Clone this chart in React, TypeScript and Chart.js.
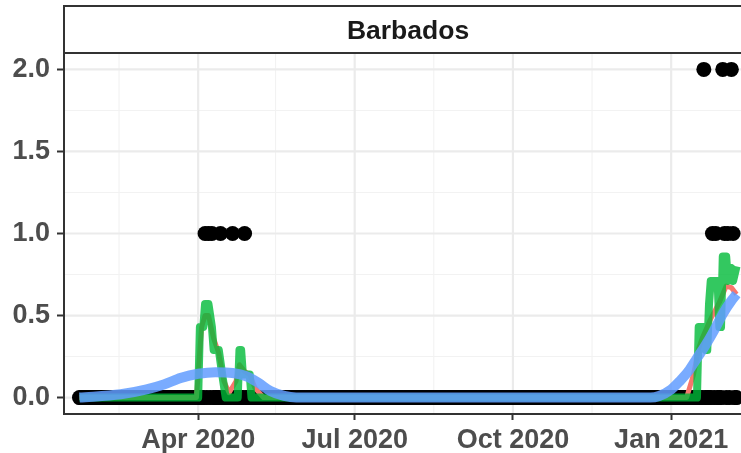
import React, { useEffect, useRef } from 'react';
import { Chart, registerables } from 'chart.js';

Chart.register(...registerables);

// ---- Data ----
const seriesStart = '2020-01-23';
const seriesEnd = '2021-02-08';

// days with non-zero daily values (all other days in the range are 0)
const eventDates = [
  '2020-04-05', '2020-04-07', '2020-04-09', '2020-04-14', '2020-04-21', '2020-04-28',
  '2021-01-20', '2021-01-25', '2021-01-27', '2021-01-31', '2021-02-01', '2021-02-03',
  '2021-02-05', '2021-02-06',
];
const eventCounts = [1, 1, 1, 1, 1, 1, 2, 1, 1, 2, 1, 1, 2, 1];

// green average line
const greenDates = [
  '2020-01-23', '2020-04-01', '2020-04-02', '2020-04-04', '2020-04-05', '2020-04-07',
  '2020-04-09', '2020-04-10', '2020-04-13', '2020-04-15', '2020-04-17', '2020-04-24',
  '2020-04-25', '2020-04-26', '2020-04-27', '2020-05-01', '2020-05-02', '2021-01-16',
  '2021-01-17', '2021-01-20', '2021-01-21', '2021-01-22', '2021-01-23', '2021-01-24',
  '2021-01-28', '2021-01-29', '2021-01-30', '2021-01-31', '2021-02-02', '2021-02-03',
  '2021-02-05', '2021-02-06', '2021-02-08',
];
const greenValues = [
  0, 0, 0.43, 0.43, 0.57, 0.57,
  0.43, 0.29, 0.29, 0.14, 0, 0,
  0.29, 0.29, 0.14, 0.14, 0, 0,
  0.43, 0.43, 0.29, 0.29, 0.57, 0.71,
  0.71, 0.43, 0.43, 0.86, 0.86, 0.71,
  0.79, 0.71, 0.8,
];

// red average line
const redDates = [
  '2020-01-23', '2020-03-31', '2020-04-01', '2020-04-02', '2020-04-03', '2020-04-05',
  '2020-04-07', '2020-04-10', '2020-04-13', '2020-04-16', '2020-04-19', '2020-04-23',
  '2020-04-25', '2020-04-28', '2020-05-01', '2020-05-04', '2020-05-09', '2021-01-10',
  '2021-01-14', '2021-01-17', '2021-01-19', '2021-01-24', '2021-01-29', '2021-02-02',
  '2021-02-05', '2021-02-08',
];
const redValues = [
  0, 0, 0.14, 0.29, 0.43, 0.5,
  0.5, 0.36, 0.27, 0.1, 0.03, 0.1,
  0.2, 0.16, 0.14, 0.06, 0, 0,
  0.14, 0.3, 0.36, 0.48, 0.58, 0.68,
  0.67, 0.63,
];

// blue smooth trend
const blueDates = [
  '2020-01-23', '2020-02-16', '2020-03-02', '2020-03-12', '2020-03-22', '2020-04-01',
  '2020-04-11', '2020-04-21', '2020-04-29', '2020-05-06', '2020-05-13', '2020-05-21',
  '2020-05-28', '2020-12-20', '2020-12-25', '2021-01-01', '2021-01-06', '2021-01-11',
  '2021-01-16', '2021-01-21', '2021-01-26', '2021-01-31', '2021-02-05', '2021-02-08',
];
const blueValues = [
  0, 0.02, 0.05, 0.08, 0.12, 0.145,
  0.155, 0.15, 0.13, 0.09, 0.04, 0.01,
  0, 0, 0.01, 0.05, 0.1, 0.16,
  0.24, 0.32, 0.41, 0.51, 0.59, 0.63,
];

// axes
const xTickDates = ['2020-04-01', '2020-07-01', '2020-10-01', '2021-01-01'];
const xTickLabels = ['Apr 2020', 'Jul 2020', 'Oct 2020', 'Jan 2021'];
const xMinorDates = ['2020-02-15', '2020-05-16', '2020-08-16', '2020-11-16', '2021-02-15'];
const xAxisStart = '2020-01-14';
const xAxisEnd = '2021-02-17';
const yTicks = [0, 0.5, 1, 1.5, 2];
const yTickLabels = ['0.0', '0.5', '1.0', '1.5', '2.0'];
const yMinor = [0.25, 0.75, 1.25, 1.75];
const yAxisMin = -0.1;
const yAxisMax = 2.1;
const panelTitle = 'Barbados';

// ---- helpers ----
const dayOf = (s: string) => {
  const [y, m, d] = s.split('-').map(Number);
  return Date.UTC(y, m - 1, d) / 86400000;
};
const toXY = (dates: string[], vals: number[]) => dates.map((d, i) => ({ x: dayOf(d), y: vals[i] }));

const buildDaily = () => {
  const out: { x: number; y: number }[] = [];
  const map = new Map<number, number>();
  eventDates.forEach((d, i) => map.set(dayOf(d), eventCounts[i]));
  for (let t = dayOf(seriesStart); t <= dayOf(seriesEnd); t++) {
    out.push({ x: t, y: map.get(t) ?? 0 });
  }
  return out;
};

const FONT = '"Liberation Sans", Arial, Helvetica, sans-serif';
const CANVAS_W = 800;
const CANVAS_H = 453;
const AREA = { left: 64, right: 752, top: 53, bottom: 414 };

const panelPlugin = {
  id: 'panelDecor',
  beforeDraw(chart: any) {
    const { ctx, chartArea: a, scales } = chart;
    const x = scales.x;
    const y = scales.y;
    ctx.save();
    ctx.fillStyle = '#ffffff';
    ctx.fillRect(0, 0, chart.width, chart.height);
    ctx.beginPath();
    ctx.rect(a.left, a.top, a.right - a.left, a.bottom - a.top);
    ctx.clip();
    // minor grid
    ctx.strokeStyle = '#f2f2f2';
    ctx.lineWidth = 1.1;
    xMinorDates.forEach((d) => {
      const px = x.getPixelForValue(dayOf(d));
      ctx.beginPath();
      ctx.moveTo(px, a.top);
      ctx.lineTo(px, a.bottom);
      ctx.stroke();
    });
    yMinor.forEach((v) => {
      const py = y.getPixelForValue(v);
      ctx.beginPath();
      ctx.moveTo(a.left, py);
      ctx.lineTo(a.right, py);
      ctx.stroke();
    });
    // major grid
    ctx.strokeStyle = '#ebebeb';
    ctx.lineWidth = 2.2;
    xTickDates.forEach((d) => {
      const px = x.getPixelForValue(dayOf(d));
      ctx.beginPath();
      ctx.moveTo(px, a.top);
      ctx.lineTo(px, a.bottom);
      ctx.stroke();
    });
    yTicks.forEach((v) => {
      const py = y.getPixelForValue(v);
      ctx.beginPath();
      ctx.moveTo(a.left, py);
      ctx.lineTo(a.right, py);
      ctx.stroke();
    });
    ctx.restore();
  },
  afterDraw(chart: any) {
    const { ctx, chartArea: a } = chart;
    ctx.save();
    const top = 6;
    ctx.fillStyle = '#ffffff';
    ctx.fillRect(a.left, top, a.right - a.left, a.top - top);
    ctx.strokeStyle = '#333333';
    ctx.lineWidth = 2;
    ctx.strokeRect(a.left, top, a.right - a.left, a.top - top);
    ctx.fillStyle = '#1a1a1a';
    ctx.font = `bold 26.5px ${FONT}`;
    ctx.textAlign = 'center';
    ctx.textBaseline = 'alphabetic';
    ctx.fillText(panelTitle, (a.left + a.right) / 2, 38.5);
    ctx.restore();
  },
};

export default function App() {
  const ref = useRef<HTMLCanvasElement>(null);

  useEffect(() => {
    const canvas = ref.current;
    if (!canvas) return;
    const tickFont = { family: FONT, size: 27, weight: 'bold' as const };
    const chart = new Chart(canvas, {
      type: 'line',
      data: {
        datasets: [
          {
            label: 'trend',
            data: toXY(blueDates, blueValues),
            borderColor: 'rgba(97,156,255,0.85)',
            borderWidth: 10,
            pointRadius: 0,
            cubicInterpolationMode: 'monotone',
            borderCapStyle: 'butt',
            borderJoinStyle: 'round',
            fill: false,
            order: 0,
          },
          {
            label: 'green',
            data: toXY(greenDates, greenValues),
            borderColor: 'rgba(0,186,56,0.8)',
            borderWidth: 8,
            pointRadius: 0,
            tension: 0,
            borderJoinStyle: 'round',
            fill: false,
            order: 1,
          },
          {
            label: 'red',
            data: toXY(redDates, redValues),
            borderColor: '#F8766D',
            borderWidth: 5,
            pointRadius: 0,
            tension: 0,
            borderJoinStyle: 'round',
            fill: false,
            order: 2,
          },
          {
            label: 'daily',
            data: buildDaily(),
            showLine: false,
            pointRadius: 7.5,
            pointBackgroundColor: '#000000',
            pointBorderWidth: 0,
            pointBorderColor: '#000000',
            order: 3,
          },
        ],
      },
      options: {
        animation: false,
        responsive: false,
        events: [],
        layout: { padding: { top: AREA.top, left: 0, right: CANVAS_W - AREA.right, bottom: 0 } },
        plugins: {
          legend: { display: false },
          tooltip: { enabled: false },
          title: { display: false },
        },
        scales: {
          x: {
            type: 'linear',
            min: dayOf(xAxisStart),
            max: dayOf(xAxisEnd),
            afterFit: (s: any) => {
              s.height = CANVAS_H - AREA.bottom;
            },
            afterBuildTicks: (s: any) => {
              s.ticks = xTickDates.map((d) => ({ value: dayOf(d) }));
            },
            ticks: {
              autoSkip: false,
              maxRotation: 0,
              minRotation: 0,
              padding: 4,
              color: '#4d4d4d',
              font: tickFont,
              callback: (v: any) => {
                const i = xTickDates.findIndex((d) => dayOf(d) === v);
                return i >= 0 ? xTickLabels[i] : '';
              },
            },
            grid: {
              drawOnChartArea: false,
              drawTicks: true,
              tickLength: 6,
              tickColor: '#333333',
              tickWidth: 2,
            },
            border: { display: true, color: '#333333', width: 2 },
          },
          y: {
            type: 'linear',
            min: yAxisMin,
            max: yAxisMax,
            afterFit: (s: any) => {
              s.width = AREA.left;
            },
            afterBuildTicks: (s: any) => {
              s.ticks = yTicks.map((v) => ({ value: v }));
            },
            ticks: {
              autoSkip: false,
              padding: 7,
              color: '#4d4d4d',
              font: tickFont,
              callback: (v: any) => {
                const i = yTicks.indexOf(v);
                return i >= 0 ? yTickLabels[i] : '';
              },
            },
            grid: {
              drawOnChartArea: false,
              drawTicks: true,
              tickLength: 7,
              tickColor: '#333333',
              tickWidth: 2,
            },
            border: { display: true, color: '#333333', width: 2 },
          },
        },
      },
      plugins: [panelPlugin],
    });

    // calibrate the plot area so that it sits exactly where the reference panel is
    const a = chart.chartArea;
    const pad: any = (chart.options as any).layout.padding;
    const dl = AREA.left - a.left;
    const dr = a.right - AREA.right;
    const dt = AREA.top - a.top;
    const db = a.bottom - AREA.bottom;
    if (dl || dr || dt || db) {
      pad.left += dl;
      pad.right += dr;
      pad.top += dt;
      pad.bottom += db;
      chart.update();
    }
    return () => chart.destroy();
  }, []);

  return (
    <div
      style={{
        position: 'fixed',
        left: 0,
        top: 0,
        width: 741,
        height: 453,
        overflow: 'hidden',
        background: '#ffffff',
      }}
    >
      <canvas
        ref={ref}
        width={CANVAS_W}
        height={CANVAS_H}
        style={{ display: 'block', width: CANVAS_W, height: CANVAS_H }}
      />
    </div>
  );
}
